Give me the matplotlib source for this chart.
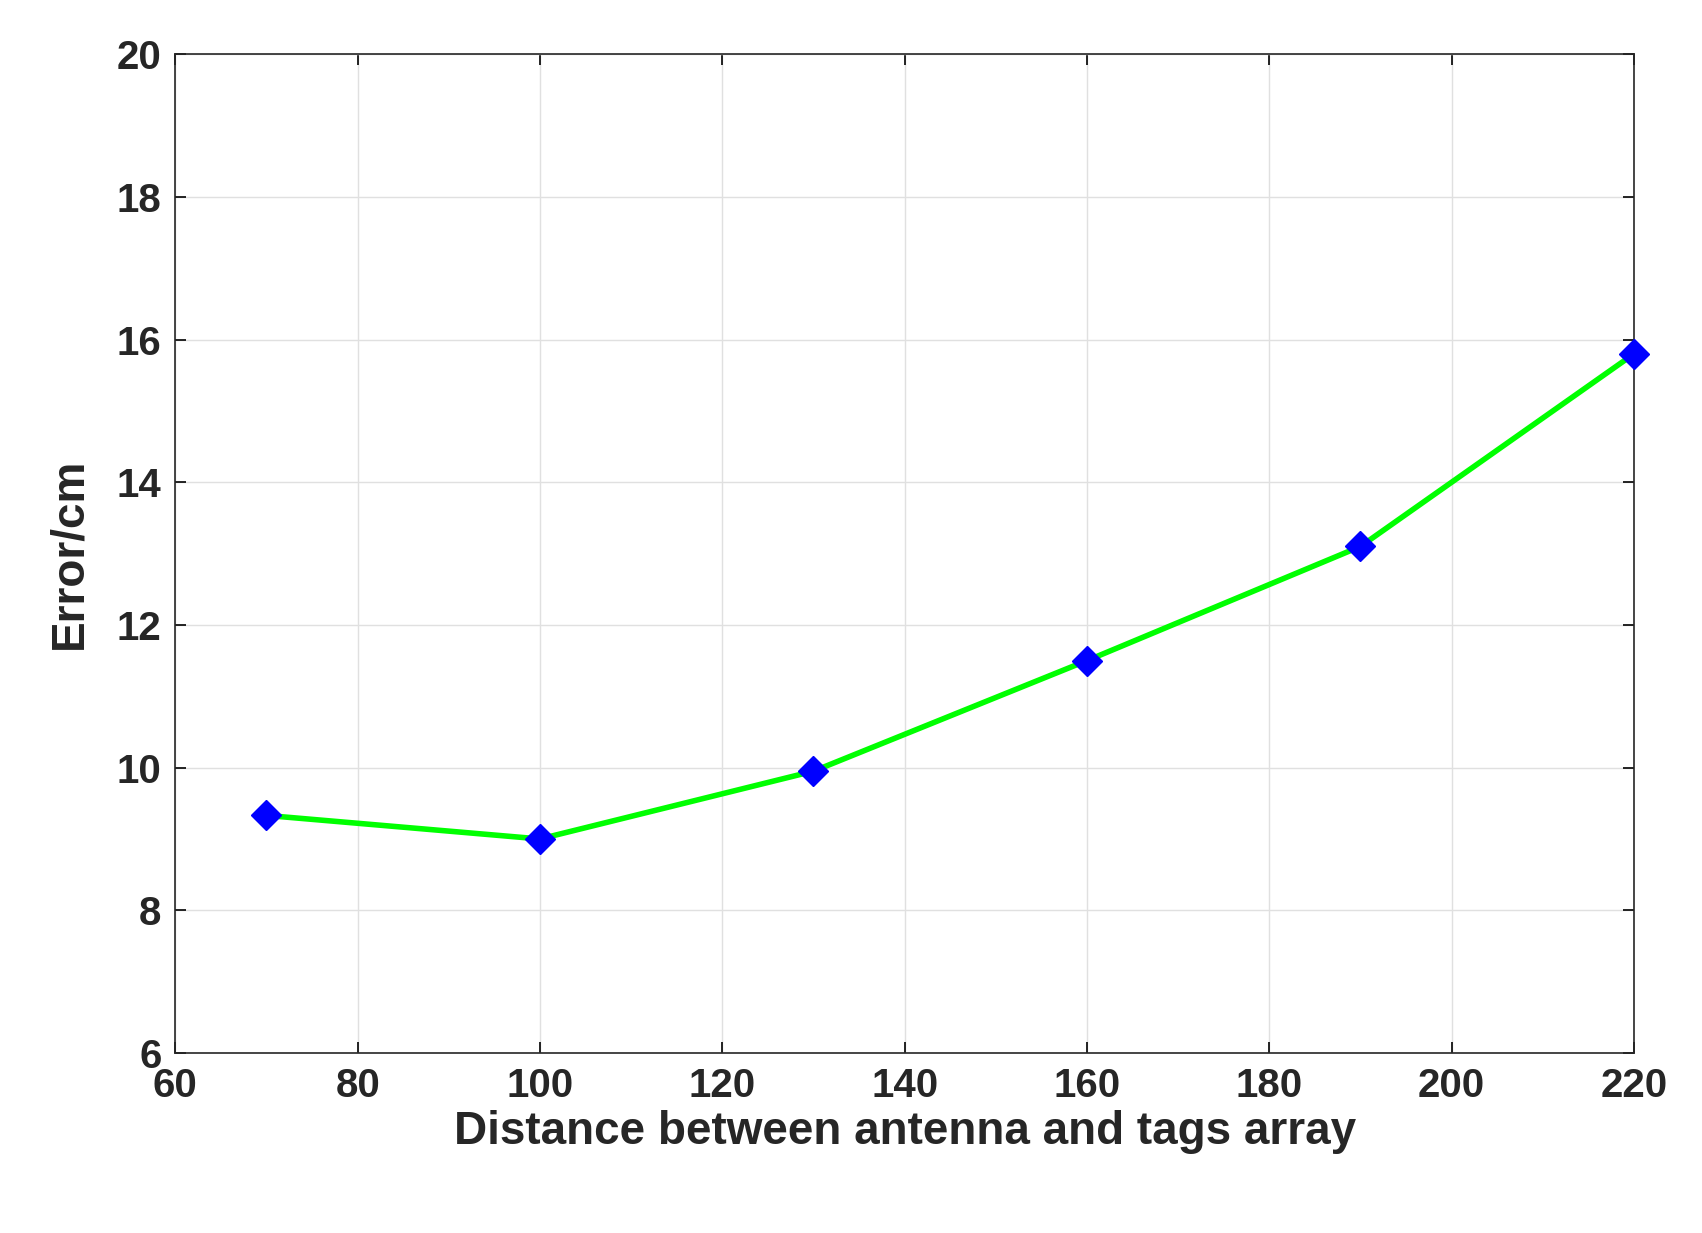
import matplotlib
matplotlib.use("Agg")
import matplotlib.pyplot as plt

distance = [70, 100, 130, 160, 190, 220]
error_cm = [9.33, 9.0, 9.95, 11.5, 13.1, 15.8]

plt.rcParams["font.family"] = ["Liberation Sans", "DejaVu Sans"]
plt.rcParams["font.weight"] = "bold"
txt = "#262626"

fig = plt.figure(figsize=(17.02, 12.33), dpi=100)
ax = fig.add_axes([0.103, 0.146, 0.857, 0.81])
ax.plot(distance, error_cm, color="#00ff00", lw=4, marker="D", ms=15,
        mfc="blue", mec="blue", zorder=3, clip_on=False)
ax.set_xlim(60, 220)
ax.set_ylim(6, 20)
ax.set_xticks(range(60, 221, 20))
ax.set_yticks(range(6, 21, 2))
ax.grid(True, color="#e0e0e0", lw=1)
ax.tick_params(labelsize=29, labelcolor=txt, direction="in", length=8, width=1.2,
               top=True, right=True, pad=10)
for s in ax.spines.values():
    s.set_linewidth(1.2)
    s.set_color(txt)
ax.set_xlabel("Distance between antenna and tags array", fontsize=33, fontweight="bold", color=txt)
ax.set_ylabel("Error/cm", fontsize=33, fontweight="bold", color=txt, labelpad=18)
fig.savefig("out.png")
